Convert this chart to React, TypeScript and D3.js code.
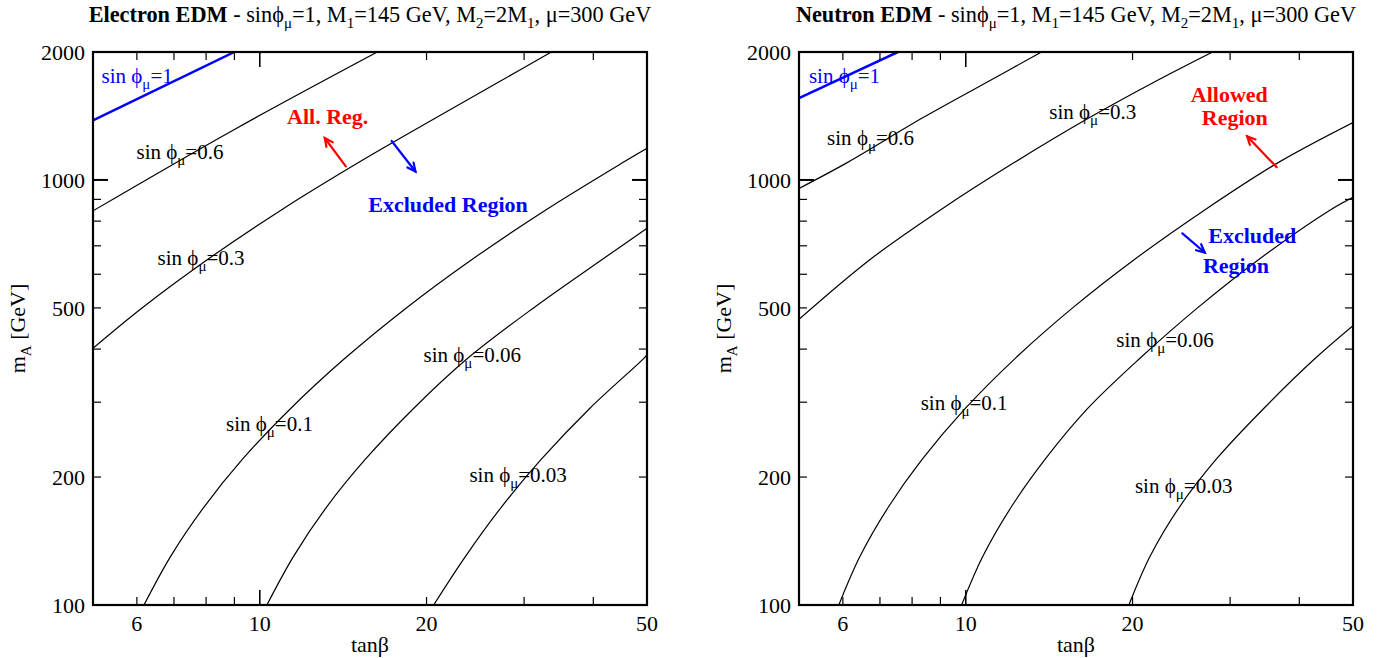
import React from "react";
import * as d3 from "d3";

// ---------- axes ----------
const X_DOMAIN: [number, number] = [5, 50];
const Y_DOMAIN: [number, number] = [100, 2000];
const xMinorTicks = [6, 7, 8, 9, 20, 30, 40];
const xMajorTicks = [10];
const xTickLabels = [6, 10, 20, 50];
const yMinorTicks = [200, 300, 400, 500, 600, 700, 800, 900];
const yMajorTicks = [1000];
const yTickLabels = [100, 200, 500, 1000, 2000];

// ---------- Electron EDM curves [tanβ, mA] ----------
const eSin1 = [[5, 1380], [9.0, 2000]];
const eSin06 = [[5, 846], [9, 1315], [16.3, 2000]];
const eSin03 = [[5, 402], [6.13, 500], [8.05, 650], [10.94, 850], [15.1, 1100], [20.8, 1400], [27.0, 1700], [33.6, 2000]];
const eSin01 = [[6.18, 100], [6.9, 130], [7.93, 170], [9.3, 220], [11.37, 290], [14.23, 380], [18.39, 500], [24.16, 650], [32.83, 850], [45.29, 1100], [50, 1187]];
const eSin006 = [[10.3, 100], [11.5, 130], [13.2, 170], [15.5, 220], [18.95, 290], [23.7, 380], [31.2, 500], [41.5, 650], [50, 770]];
const eSin003 = [[20.6, 100], [23.5, 130], [27.3, 170], [32.2, 220], [39.4, 290], [49.3, 380], [50, 388]];

// ---------- Neutron EDM curves [tanβ, mA] ----------
const nSin1 = [[5, 1558], [7.54, 2000]];
const nSin06 = [[5, 955], [6.12, 1100], [8.36, 1400], [10.94, 1700], [13.7, 2000]];
const nSin03 = [[5, 470], [6.72, 650], [9.0, 850], [12.25, 1100], [16.7, 1400], [21.9, 1700], [27.9, 2000]];
const nSin01 = [[5.9, 100], [6.44, 130], [7.25, 170], [8.34, 220], [9.98, 290], [12.27, 380], [15.59, 500], [20.16, 650], [27.0, 850], [36.7, 1100], [50, 1365]];
const nSin006 = [[9.83, 100], [10.73, 130], [12.08, 170], [13.9, 220], [16.6, 290], [20.6, 380], [26.2, 500], [33.8, 650], [45.5, 850], [50, 910]];
const nSin003 = [[19.7, 100], [21.5, 130], [24.3, 170], [28.3, 220], [34.5, 290], [42.7, 380], [50, 454]];

// label anchors in data coords [tanβ, mA, text]
const eLabels: [number, number, string][] = [
  [5.99, 1122, "0.6"], [6.54, 630, "0.3"], [8.69, 256, "0.1"], [19.75, 374, "0.06"], [23.9, 195, "0.03"],
];
const nLabels: [number, number, string][] = [
  [5.62, 1211, "0.6"], [14.15, 1390, "0.3"], [8.29, 287, "0.1"], [18.7, 405, "0.06"], [20.2, 183, "0.03"],
];

const FONT = "'Liberation Serif', 'Times New Roman', Times, serif";
const W = 1383, H = 658;
const Y_RANGE: [number, number] = [605, 52];
const PHI = "\u03D5";

type Pt = number[];

function SinLabel({ x, y, value, color }: { x: number; y: number; value: string; color: string }) {
  return (
    <text x={x} y={y} fill={color} fontSize={21} fontFamily={FONT}>
      <tspan>sin {PHI}</tspan>
      <tspan dy={6} fontSize={15}>μ</tspan>
      <tspan dy={-6}>={value}</tspan>
    </text>
  );
}

function Panel(props: {
  id: string;
  x0: number;
  x1: number;
  titleBold: string;
  blue: Pt[];
  curves: Pt[][];
  labels: [number, number, string][];
  blueLabel: [number, number];
  annot: React.ReactNode;
}) {
  const { id, x0, x1 } = props;
  const x = d3.scaleLog().domain(X_DOMAIN).range([x0, x1]);
  const y = d3.scaleLog().domain(Y_DOMAIN).range(Y_RANGE);
  const line = d3
    .line<Pt>()
    .x((d) => x(d[0]))
    .y((d) => y(d[1]))
    .curve(d3.curveCatmullRom.alpha(0.5));
  const top = Y_RANGE[1], bot = Y_RANGE[0];
  const cx = (x0 + x1) / 2;
  const cy = (top + bot) / 2;
  const MAJ = 15, MIN = 8;
  return (
    <g fontFamily={FONT}>
      <defs>
        <clipPath id={`clip-${id}`}>
          <rect x={x0} y={top} width={x1 - x0} height={bot - top} />
        </clipPath>
      </defs>
      {/* title */}
      <text x={cx} y={22} textAnchor="middle" fontSize={22.3}>
        <tspan fontWeight="bold">{props.titleBold}</tspan>
        <tspan> - sin{PHI}</tspan>
        <tspan dy={6} fontSize={15}>μ</tspan>
        <tspan dy={-6}>=1, M</tspan>
        <tspan dy={6} fontSize={15}>1</tspan>
        <tspan dy={-6}>=145 GeV, M</tspan>
        <tspan dy={6} fontSize={15}>2</tspan>
        <tspan dy={-6}>=2M</tspan>
        <tspan dy={6} fontSize={15}>1</tspan>
        <tspan dy={-6}>, μ=300 GeV</tspan>
      </text>
      {/* curves */}
      <g clipPath={`url(#clip-${id})`}>
        {props.curves.map((c, i) => (
          <path key={i} d={line(c) || ""} fill="none" stroke="#000" strokeWidth={1.2} />
        ))}
        <path d={line(props.blue) || ""} fill="none" stroke="#0000ff" strokeWidth={2.5} />
      </g>
      {/* ticks */}
      {xMinorTicks.map((t) => (
        <g key={"xm" + t}>
          <line x1={x(t)} x2={x(t)} y1={bot} y2={bot - MIN} stroke="#000" strokeWidth={1.2} />
          <line x1={x(t)} x2={x(t)} y1={top} y2={top + MIN} stroke="#000" strokeWidth={1.2} />
        </g>
      ))}
      {xMajorTicks.map((t) => (
        <g key={"xM" + t}>
          <line x1={x(t)} x2={x(t)} y1={bot} y2={bot - MAJ} stroke="#000" strokeWidth={1.6} />
          <line x1={x(t)} x2={x(t)} y1={top} y2={top + MAJ} stroke="#000" strokeWidth={1.6} />
        </g>
      ))}
      {yMinorTicks.map((t) => (
        <g key={"ym" + t}>
          <line x1={x0} x2={x0 + MIN} y1={y(t)} y2={y(t)} stroke="#000" strokeWidth={1.2} />
          <line x1={x1} x2={x1 - MIN} y1={y(t)} y2={y(t)} stroke="#000" strokeWidth={1.2} />
        </g>
      ))}
      {yMajorTicks.map((t) => (
        <g key={"yM" + t}>
          <line x1={x0} x2={x0 + MAJ} y1={y(t)} y2={y(t)} stroke="#000" strokeWidth={2} />
          <line x1={x1} x2={x1 - MAJ} y1={y(t)} y2={y(t)} stroke="#000" strokeWidth={2} />
        </g>
      ))}
      {/* frame */}
      <rect x={x0} y={top} width={x1 - x0} height={bot - top} fill="none" stroke="#000" strokeWidth={2.2} />
      {/* tick labels */}
      {xTickLabels.map((t) => (
        <text key={"xl" + t} x={x(t)} y={631} textAnchor="middle" fontSize={22}>
          {t}
        </text>
      ))}
      {yTickLabels.map((t) => (
        <text key={"yl" + t} x={x0 - 8} y={y(t)} dy="0.35em" textAnchor="end" fontSize={22}>
          {t}
        </text>
      ))}
      {/* axis labels */}
      <text x={cx} y={652} textAnchor="middle" fontSize={22}>
        tanβ
      </text>
      <text transform={`translate(${x0 - 68},${cy}) rotate(-90)`} textAnchor="middle" fontSize={22}>
        <tspan>m</tspan>
        <tspan dy={6} fontSize={15}>A</tspan>
        <tspan dy={-6}> [GeV]</tspan>
      </text>
      {/* curve labels */}
      <SinLabel x={x(props.blueLabel[0])} y={y(props.blueLabel[1])} value="1" color="#0000ff" />
      {props.labels.map((l) => (
        <SinLabel key={l[2]} x={x(l[0])} y={y(l[1])} value={l[2]} color="#000" />
      ))}
      {props.annot}
    </g>
  );
}

function Arrow({ from, to, color, x, y }: { from: number[]; to: number[]; color: string; x: any; y: any }) {
  const x1 = x(from[0]), y1 = y(from[1]), x2 = x(to[0]), y2 = y(to[1]);
  const ang = Math.atan2(y2 - y1, x2 - x1);
  const L = 9, A = 0.45;
  const p1 = [x2 - L * Math.cos(ang - A), y2 - L * Math.sin(ang - A)];
  const p2 = [x2 - L * Math.cos(ang + A), y2 - L * Math.sin(ang + A)];
  return (
    <g stroke={color} strokeWidth={2.2} fill="none" strokeLinecap="round">
      <line x1={x1} y1={y1} x2={x2} y2={y2} />
      <path d={`M${p1[0]},${p1[1]} L${x2},${y2} L${p2[0]},${p2[1]}`} />
    </g>
  );
}

export default function App() {
  const L0 = 93, L1 = 647, R0 = 799, R1 = 1353;
  const xl = d3.scaleLog().domain(X_DOMAIN).range([L0, L1]);
  const xr = d3.scaleLog().domain(X_DOMAIN).range([R0, R1]);
  const y = d3.scaleLog().domain(Y_DOMAIN).range(Y_RANGE);
  const bold = { fontWeight: "bold" as const, fontSize: 22, fontFamily: FONT };

  const eAnnot = (
    <g>
      <text x={xl(11.2)} y={y(1352)} fill="#ff0000" {...bold}>All. Reg.</text>
      <text x={xl(15.7)} y={y(840)} fill="#0000ff" {...bold}>Excluded Region</text>
      <Arrow from={[14.3, 1076]} to={[13.1, 1255]} color="#ff0000" x={xl} y={y} />
      <Arrow from={[17.3, 1235]} to={[19.1, 1047]} color="#0000ff" x={xl} y={y} />
    </g>
  );
  const nAnnot = (
    <g>
      <text x={xr(29.9)} y={y(1528)} fill="#ff0000" textAnchor="middle" {...bold}>Allowed</text>
      <text x={xr(30.6)} y={y(1349)} fill="#ff0000" textAnchor="middle" {...bold}>Region</text>
      <text x={xr(27.4)} y={y(712)} fill="#0000ff" {...bold}>Excluded</text>
      <text x={xr(26.8)} y={y(604)} fill="#0000ff" {...bold}>Region</text>
      <Arrow from={[36.4, 1072]} to={[32.2, 1267]} color="#ff0000" x={xr} y={y} />
      <Arrow from={[24.6, 749]} to={[27.0, 675]} color="#0000ff" x={xr} y={y} />
    </g>
  );

  return (
    <div style={{ position: "absolute", left: 0, top: 0 }}>
      <svg width={W} height={H} viewBox={`0 0 ${W} ${H}`} style={{ display: "block", background: "#fff" }}>
        <rect width={W} height={H} fill="#fff" />
        <Panel
          id="e"
          x0={L0}
          x1={L1}
          titleBold="Electron EDM"
          blue={eSin1}
          curves={[eSin06, eSin03, eSin01, eSin006, eSin003]}
          labels={eLabels}
          blueLabel={[5.18, 1693]}
          annot={eAnnot}
        />
        <Panel
          id="n"
          x0={R0}
          x1={R1}
          titleBold="Neutron EDM"
          blue={nSin1}
          curves={[nSin06, nSin03, nSin01, nSin006, nSin003]}
          labels={nLabels}
          blueLabel={[5.21, 1695]}
          annot={nAnnot}
        />
      </svg>
    </div>
  );
}
